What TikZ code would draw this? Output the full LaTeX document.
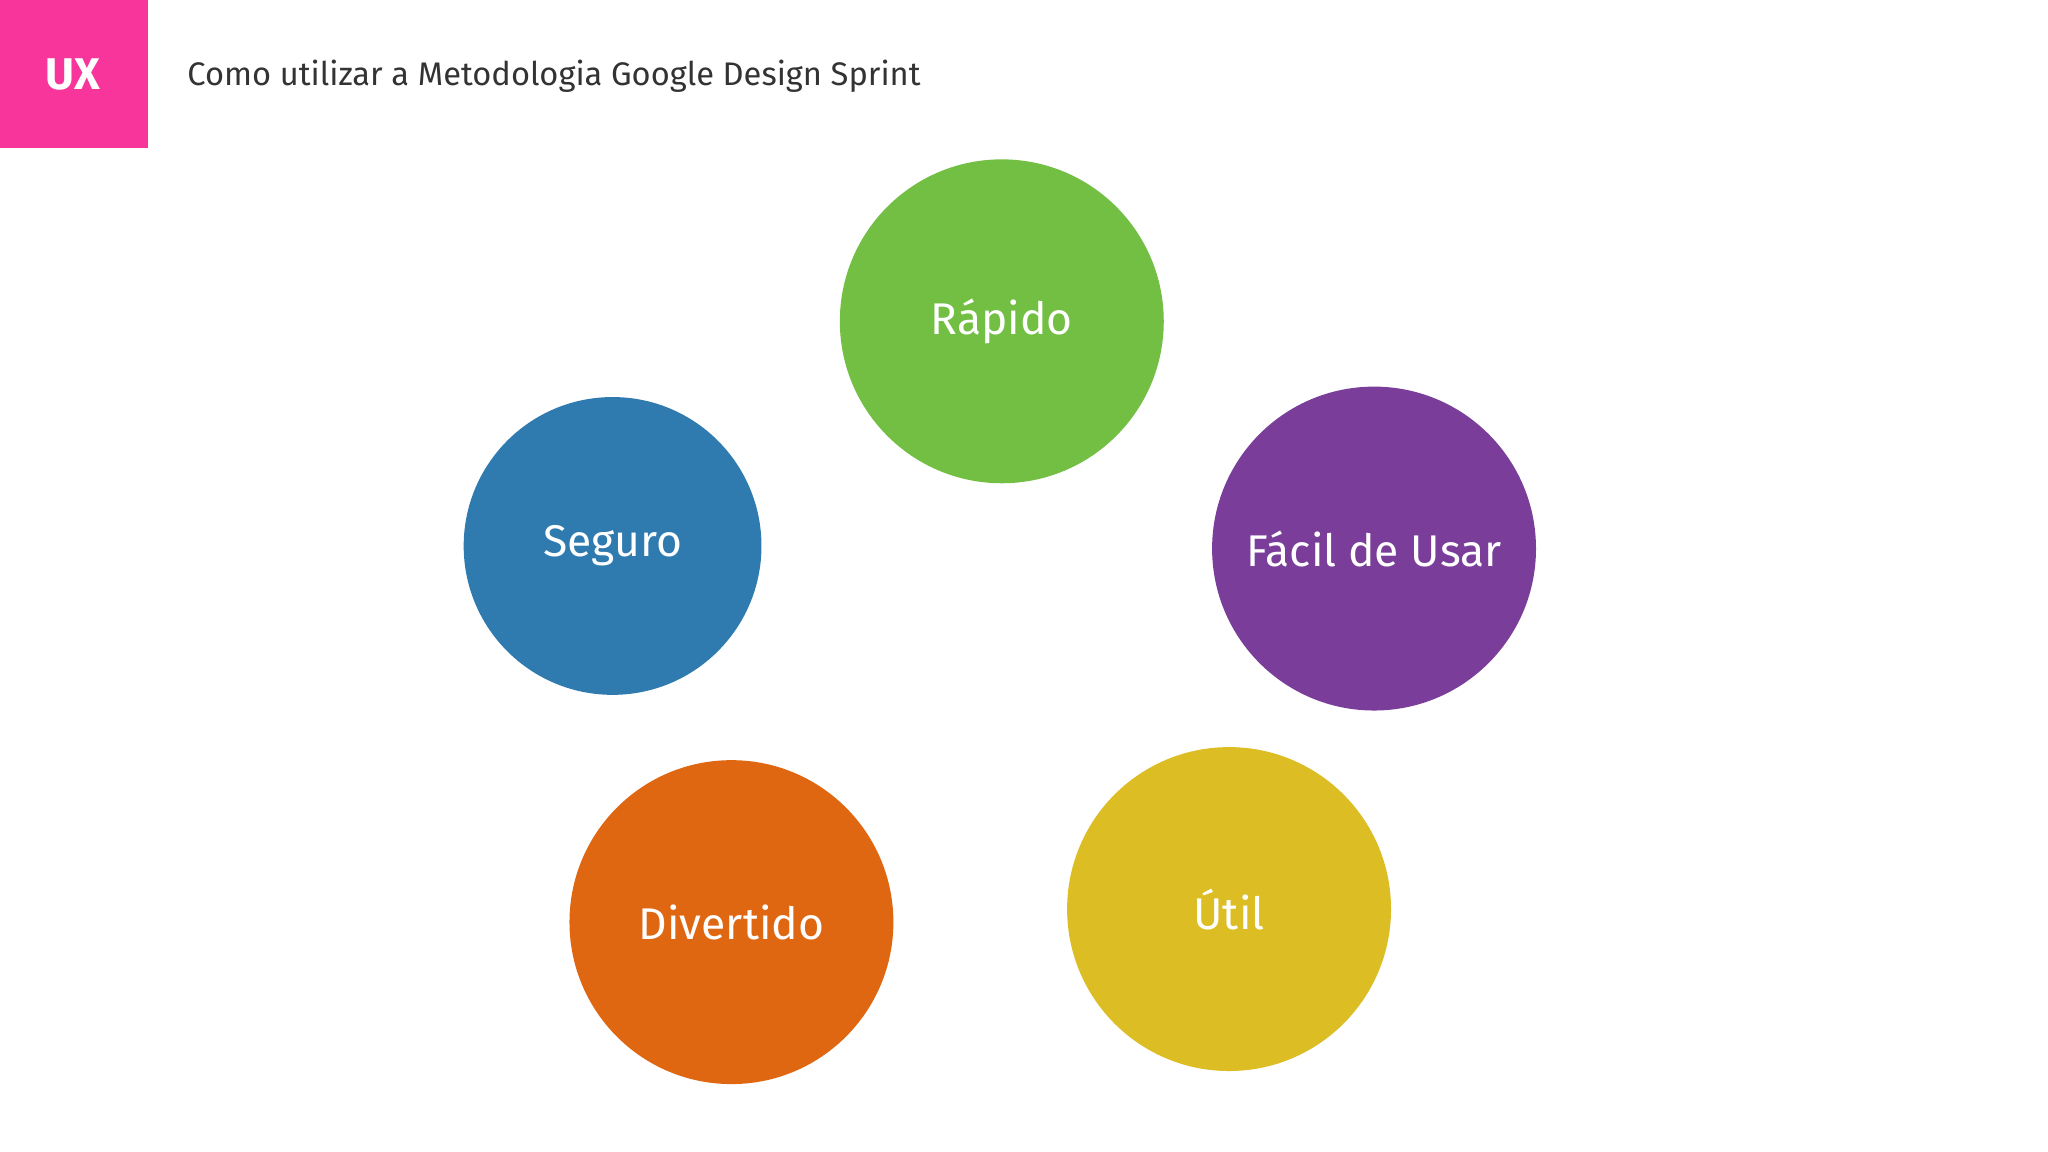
\documentclass[tikz,border=0pt]{standalone}
\usepackage{fontspec}
\setmainfont{Fira Sans}
\begin{document}
\begin{tikzpicture}[x=1pt,y=-1pt,
  bub/.style={circle,inner sep=0pt,text=white,font=\fontsize{34}{40}\selectfont}]
\definecolor{pinkux}{HTML}{F7359A}
\definecolor{cgreen}{HTML}{72BF44}
\definecolor{cblue}{HTML}{2F7BB0}
\definecolor{cpurple}{HTML}{7A3E9A}
\definecolor{corange}{HTML}{E06712}
\definecolor{cyellow}{HTML}{DCBD24}
\useasboundingbox (0,0) rectangle (1568,882);
\fill[white] (0,0) rectangle (1568,882);
\fill[pinkux] (0,0) rectangle (113,113);
\node[text=white,font=\bfseries\fontsize{34}{40}\selectfont] (ux) at (56,57) {UX};
\node[anchor=west,text=black!80,font=\fontsize{25}{30}\selectfont] (title) at (140,58) {Como utilizar a Metodologia Google Design Sprint};
\node[bub,fill=cgreen,minimum size=248pt] (r) at (767,246) {Rápido};
\node[bub,fill=cblue,minimum size=228pt] (s) at (469,418) {Seguro};
\node[bub,fill=cpurple,minimum size=248pt] (f) at (1052,420) {Fácil de Usar};
\node[bub,fill=corange,minimum size=248pt] (d) at (560,706) {Divertido};
\node[bub,fill=cyellow,minimum size=248pt] (u) at (941,696) {Útil};
\end{tikzpicture}
\end{document}
